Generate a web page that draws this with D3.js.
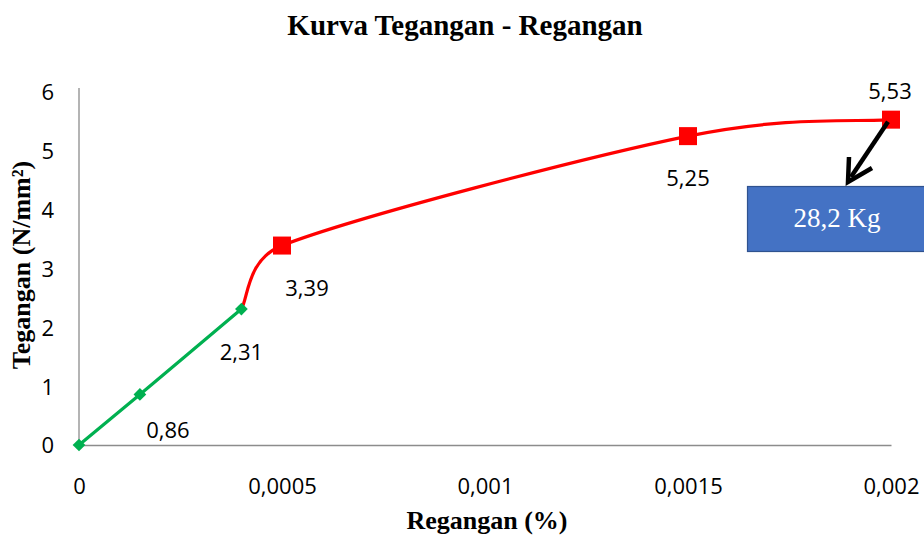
<!DOCTYPE html>
<html>
<head>
<meta charset="utf-8">
<script src="https://cdn.jsdelivr.net/npm/d3@7"></script>
<style>
  html, body { margin: 0; padding: 0; background: #fff; }
  svg { display: block; }
</style>
</head>
<body>
<svg id="chart" width="924" height="537"></svg>
<script>
// Strain (%) and stress (N/mm²) readings
const elasticStrain = [0, 0.00015, 0.0004];
const elasticStress = [0, 0.86, 2.31];
const plasticStrain = [0.0004, 0.0005, 0.0015, 0.002];
const plasticStress = [2.31, 3.39, 5.25, 5.53];
const labelledStrain = [0.00015, 0.0004, 0.0005, 0.0015, 0.002];
const labelledStress = [0.86, 2.31, 3.39, 5.25, 5.53];
const xTicks = [0, 0.0005, 0.001, 0.0015, 0.002];
const xTickLabels = ["0", "0,0005", "0,001", "0,0015", "0,002"];
const yTicks = [0, 1, 2, 3, 4, 5, 6];
const maxLoad = "28,2 Kg";

const svg = d3.select("#chart");
const x = d3.scaleLinear().domain([0, 0.002]).range([79, 891]);
const y = d3.scaleLinear().domain([0, 6]).range([445, 92]);

const labelFont = "'Open Sans', 'Noto Sans', sans-serif";
const serif = "'Liberation Serif', 'Times New Roman', serif";

// Title
svg.append("text").attr("x", 465).attr("y", 35)
  .attr("text-anchor", "middle").attr("font-family", serif)
  .attr("font-weight", "bold").attr("font-size", 29).text("Kurva Tegangan - Regangan");

// Axes
const xAxis = d3.axisBottom(x).tickValues(xTicks)
  .tickFormat((d, i) => xTickLabels[i]).tickSize(0).tickPadding(33);
const gx = svg.append("g").attr("transform", `translate(0,${y(0)})`).call(xAxis);
gx.select(".domain").attr("stroke", "#8c8c8c").attr("stroke-width", 1.3);
gx.selectAll("text").attr("font-family", labelFont).attr("font-size", 22).attr("fill", "#000");

const yAxis = d3.axisLeft(y).tickValues(yTicks).tickFormat(d3.format("d"))
  .tickSize(0).tickPadding(25);
const gy = svg.append("g").attr("transform", `translate(${x(0)},0)`).call(yAxis);
gy.select(".domain").attr("stroke", "#8c8c8c").attr("stroke-width", 1.3)
  .attr("d", `M0,${y(6) - 4}V${y(0)}`);
gy.selectAll("text").attr("font-family", labelFont).attr("font-size", 22).attr("fill", "#000")
  .attr("dy", "0.36em");

// Axis titles
svg.append("text").attr("x", 487).attr("y", 529)
  .attr("text-anchor", "middle").attr("font-family", serif)
  .attr("font-weight", "bold").attr("font-size", 26).text("Regangan (%)");
svg.append("text").attr("transform", "translate(30,265) rotate(-90)")
  .attr("text-anchor", "middle").attr("font-family", serif)
  .attr("font-weight", "bold").attr("font-size", 26).text("Tegangan (N/mm²)");

// Smoothed line: Catmull-Rom style Bézier handles (1/6 of the neighbour span),
// each handle capped at half of its own segment so short segments never loop.
function smoothPath(data) {
  const pts = data.map(d => [x(d[0]), y(d[1])]);
  const path = d3.path();
  const cap = (v, limit) => {
    const len = Math.hypot(v[0], v[1]);
    return len > limit ? [v[0] * limit / len, v[1] * limit / len] : v;
  };
  path.moveTo(pts[0][0], pts[0][1]);
  for (let i = 0; i < pts.length - 1; i++) {
    const p0 = pts[i - 1] || pts[i], p1 = pts[i], p2 = pts[i + 1], p3 = pts[i + 2] || pts[i + 1];
    const half = Math.hypot(p2[0] - p1[0], p2[1] - p1[1]) / 2;
    const h1 = cap([(p2[0] - p0[0]) / 6, (p2[1] - p0[1]) / 6], half);
    const h2 = cap([(p3[0] - p1[0]) / 6, (p3[1] - p1[1]) / 6], half);
    path.bezierCurveTo(p1[0] + h1[0], p1[1] + h1[1], p2[0] - h2[0], p2[1] - h2[1], p2[0], p2[1]);
  }
  return path.toString();
}

const elastic = d3.zip(elasticStrain, elasticStress);
const plastic = d3.zip(plasticStrain, plasticStress);

svg.append("path").attr("d", smoothPath(plastic))
  .attr("fill", "none").attr("stroke", "#ff0000").attr("stroke-width", 3.2);
svg.append("path").attr("d", smoothPath(elastic))
  .attr("fill", "none").attr("stroke", "#00b050").attr("stroke-width", 3.2);

// Markers: red squares on the plastic branch, green diamonds on the elastic branch
svg.selectAll(".sq").data(plastic.slice(1)).join("rect")
  .attr("x", d => x(d[0]) - 9).attr("y", d => y(d[1]) - 9)
  .attr("width", 18).attr("height", 18).attr("fill", "#ff0000");
svg.selectAll(".dm").data(elastic).join("path")
  .attr("transform", d => `translate(${x(d[0])},${y(d[1])}) rotate(45)`)
  .attr("d", "M-4.5,-4.5H4.5V4.5H-4.5Z").attr("fill", "#00b050");

// Data labels
const labelOffsets = [[28, 44], [0, 51], [25, 50], [0, 50], [-1, -21]];
svg.selectAll(".lbl").data(d3.zip(labelledStrain, labelledStress)).join("text")
  .attr("x", (d, i) => x(d[0]) + labelOffsets[i][0])
  .attr("y", (d, i) => y(d[1]) + labelOffsets[i][1])
  .attr("text-anchor", "middle").attr("font-family", labelFont).attr("font-size", 22)
  .text(d => d3.format(".2f")(d[1]).replace(".", ","));

// Callout box and arrow pointing at the peak load
const peak = [plasticStrain[3], plasticStress[3]];
svg.append("rect").attr("x", 747.5).attr("y", 186.5).attr("width", 180).attr("height", 65)
  .attr("fill", "#4472c4").attr("stroke", "#2f528f").attr("stroke-width", 1.2);
svg.append("text").attr("x", 837).attr("y", 227).attr("text-anchor", "middle")
  .attr("font-family", serif).attr("font-size", 27).attr("fill", "#fff").text(maxLoad);

const tipX = 848, tipY = 182;
svg.append("line").attr("x1", x(peak[0]) - 3).attr("y1", y(peak[1]) + 2)
  .attr("x2", tipX + 3).attr("y2", tipY - 5)
  .attr("stroke", "#000").attr("stroke-width", 4.5);
svg.append("path").attr("d", `M${tipX + 1},${tipY - 25}L${tipX},${tipY}L${tipX + 24},${tipY - 14}`)
  .attr("fill", "none").attr("stroke", "#000").attr("stroke-width", 4.5)
  .attr("stroke-linejoin", "miter").attr("stroke-linecap", "butt");
</script>
</body>
</html>
